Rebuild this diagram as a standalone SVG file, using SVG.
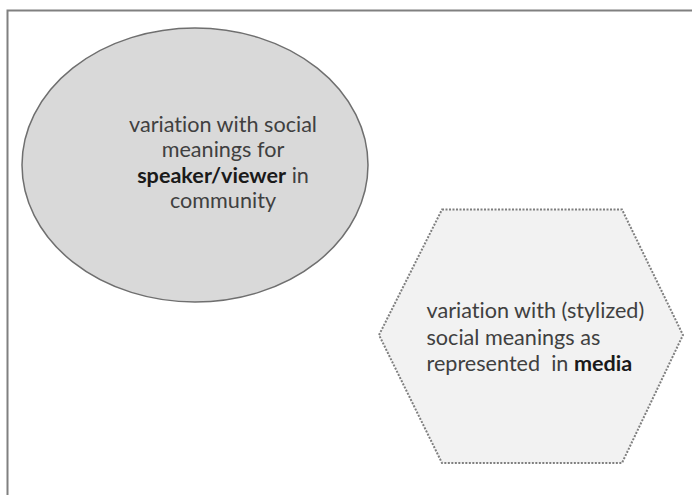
<svg xmlns="http://www.w3.org/2000/svg" width="692" height="495" viewBox="0 0 692 495">
<style>
.t{font-family:Lato,"Open Sans","Liberation Sans",sans-serif;font-size:21.6px;fill:#404040;font-variant-ligatures:none;white-space:pre}
.b{font-weight:bold;fill:#1a1a1a}
</style>
<rect x="0" y="0" width="692" height="495" fill="#ffffff"/>
<rect x="7.5" y="10.5" width="700" height="500" fill="none" stroke="#808080" stroke-width="2"/>
<g id="community">
<ellipse cx="195" cy="165" rx="173" ry="137" fill="#d9d9d9" stroke="#6f6f6f" stroke-width="1.5"/>
<text class="t" text-anchor="middle"><tspan x="223" y="131.5">variation with social</tspan><tspan x="223" y="157">meanings for</tspan><tspan x="223" y="182.5"><tspan class="b">speaker/viewer</tspan> in</tspan><tspan x="223" y="208">community</tspan></text>
</g>
<g id="media">
<polygon points="442,209.5 622,209.5 683,335 622,463 442,463 379,335" fill="#f2f2f2" stroke="#7f7f7f" stroke-width="2" stroke-dasharray="2,1.5"/>
<text class="t"><tspan x="426.5" y="318">variation with (stylized)</tspan><tspan x="426.5" y="344.5">social meanings as</tspan><tspan x="426.5" y="370.5">represented  in <tspan class="b">media</tspan></tspan></text>
</g>
<g id="connectors"/>
</svg>
